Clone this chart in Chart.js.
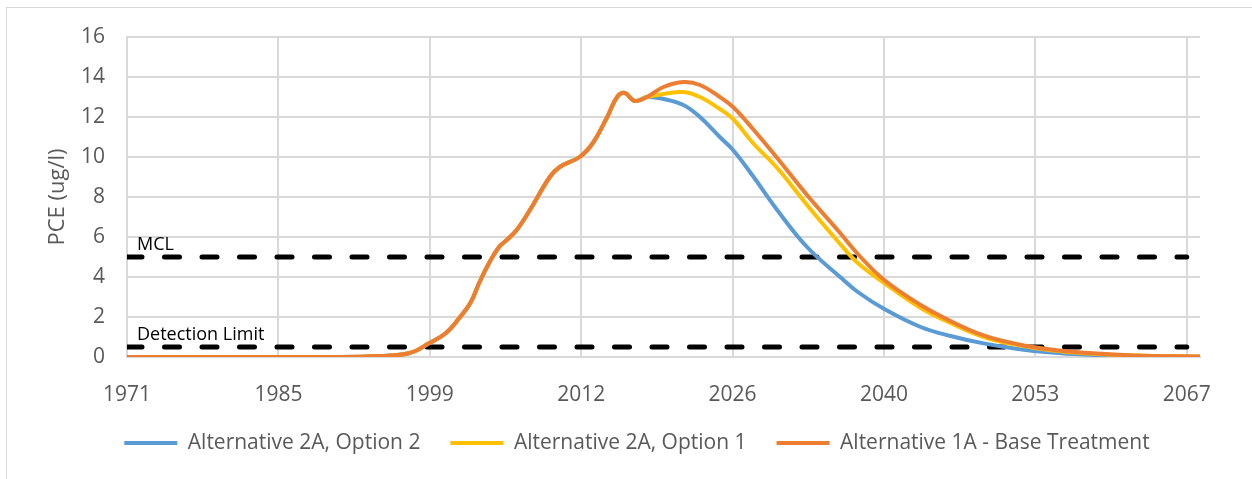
<!DOCTYPE html>
<html>
<head>
<meta charset="utf-8">
<script src="https://cdn.jsdelivr.net/npm/chart.js@4.4.1/dist/chart.umd.min.js"></script>
<style>
  html, body { margin: 0; padding: 0; background: #fff; overflow: hidden; }
  #wrap { position: relative; width: 1252px; height: 479px; }
  #frame { position: absolute; left: 6px; top: 7px; width: 1300px; height: 500px;
           border-left: 1px solid #d9d9d9; border-top: 1px solid #d9d9d9; }
  #chart { position: absolute; left: 0; top: 0; }
</style>
</head>
<body>
<div id="wrap">
  <div id="frame"></div>
  <canvas id="chart" width="1252" height="479"></canvas>
</div>
<script>
// x axis labels (Excel date axis, ticks are evenly spaced)
const tickLabels = ['1971', '1985', '1999', '2012', '2026', '2040', '2053', '2067'];

// years of the sampled points
const years = [1971, 1982, 1989.4, 1993.9, 1996.6, 1998.4, 1999.9, 2001.1, 2002.1, 2002.9,
  2003.8, 2004.7, 2005.4, 2006.3, 2007.5, 2009.3, 2010.2, 2012.0, 2013.2, 2014.5,
  2015.4, 2016.1, 2017.0, 2018.1, 2019.6, 2021.4, 2022.9, 2024.7, 2025.9, 2027.7,
  2029.9, 2032.6, 2035.6, 2037.2, 2039.6, 2042.9, 2045.6, 2048.6, 2051.7, 2054.7,
  2057.7, 2062.2, 2068.2];

// PCE (ug/l)
const alt2aOpt2 = [0, 0, 0, 0.05, 0.2, 0.7, 1.2, 1.95, 2.7, 3.7,
  4.7, 5.5, 5.85, 6.35, 7.35, 9.0, 9.5, 10.0, 10.7, 12.0,
  13.0, 13.2, 12.8, 13.0, 12.9, 12.6, 12.0, 11.0, 10.35, 9.05,
  7.35, 5.5, 4.0, 3.25, 2.4, 1.5, 1.05, 0.68, 0.4, 0.22,
  0.12, 0.05, 0.01];
const alt2aOpt1 = [0, 0, 0, 0.05, 0.2, 0.7, 1.2, 1.95, 2.7, 3.7,
  4.7, 5.5, 5.85, 6.35, 7.35, 9.0, 9.5, 10.0, 10.7, 12.0,
  13.0, 13.2, 12.8, 13.0, 13.15, 13.25, 13.0, 12.4, 11.9, 10.7,
  9.45, 7.6, 5.65, 4.7, 3.7, 2.45, 1.7, 1.0, 0.6, 0.34,
  0.19, 0.07, 0.02];
const alt1aBase = [0, 0, 0, 0.05, 0.2, 0.7, 1.2, 1.95, 2.7, 3.7,
  4.7, 5.5, 5.85, 6.35, 7.35, 9.0, 9.5, 10.0, 10.7, 12.0,
  13.0, 13.2, 12.8, 13.0, 13.5, 13.75, 13.6, 13.0, 12.5, 11.4,
  9.95, 8.1, 6.2, 5.15, 3.85, 2.6, 1.8, 1.08, 0.64, 0.37,
  0.21, 0.08, 0.02];

// horizontal reference lines
const refNames = ['MCL', 'Detection Limit'];
const refValues = [5, 0.5];

const firstYear = 1971;
const lastYear = 2067;
const tickYears = tickLabels.map((t, i) => firstYear + i * (lastYear - firstYear) / (tickLabels.length - 1));

const grey = '#595959';
const gridColor = '#d9d9d9';
const font = 'Open Sans';

function series(values) {
  return years.map((y, i) => ({ x: y, y: values[i] }));
}

function lineSet(label, values, color, order) {
  return {
    label: label,
    data: series(values),
    borderColor: color,
    backgroundColor: color,
    borderWidth: 4,
    pointRadius: 0,
    tension: 0.4,
    order: order
  };
}

const refSets = refValues.map((v, i) => ({
  label: refNames[i],
  data: [{ x: firstYear, y: v }, { x: lastYear, y: v }],
  borderColor: '#000',
  borderWidth: 5,
  borderDash: [15, 22.5],
  borderCapStyle: 'round',
  pointRadius: 0,
  order: 10
}));

// MCL / Detection Limit text above the dashed lines
const refLabels = {
  id: 'refLabels',
  afterDatasetsDraw(chart) {
    const ctx = chart.ctx;
    const yScale = chart.scales.y;
    ctx.save();
    ctx.font = '18px "' + font + '"';
    ctx.fillStyle = '#000';
    ctx.textBaseline = 'alphabetic';
    refValues.forEach((v, i) => {
      ctx.fillText(refNames[i], chart.chartArea.left + 10, yScale.getPixelForValue(v) - 7);
    });
    ctx.restore();
  }
};

new Chart(document.getElementById('chart'), {
  type: 'line',
  data: {
    datasets: [
      lineSet('Alternative 2A, Option 2', alt2aOpt2, '#5b9bd5', 3),
      lineSet('Alternative 2A, Option 1', alt2aOpt1, '#ffc000', 2),
      lineSet('Alternative 1A - Base Treatment', alt1aBase, '#ed7d31', 1)
    ].concat(refSets)
  },
  options: {
    responsive: false,
    animation: false,
    devicePixelRatio: 1,
    layout: { padding: { left: 22, top: 37, right: 0, bottom: 15.5 } },
    plugins: {
      tooltip: { enabled: false },
      legend: {
        position: 'bottom',
        labels: {
          boxWidth: 53,
          boxHeight: 4,
          padding: 30,
          color: grey,
          font: { family: font, size: 21 },
          sort: (a, b) => a.datasetIndex - b.datasetIndex,
          filter: item => item.datasetIndex < 3,
          generateLabels: chart => Chart.defaults.plugins.legend.labels.generateLabels(chart)
            .map(l => Object.assign(l, { lineWidth: 0, fillStyle: l.strokeStyle }))
        }
      }
    },
    scales: {
      x: {
        type: 'linear',
        min: firstYear,
        max: years[years.length - 1],
        afterBuildTicks: scale => { scale.ticks = tickYears.map(v => ({ value: v })); },
        afterFit: scale => { scale.height = 45.5; },
        grid: { color: gridColor, lineWidth: 2, drawTicks: false },
        border: { color: gridColor, width: 2 },
        ticks: {
          color: grey,
          padding: 25,
          maxRotation: 0,
          autoSkip: false,
          font: { family: font, size: 21 },
          callback: (v, i) => tickLabels[i]
        }
      },
      y: {
        min: 0,
        max: 16,
        afterFit: scale => { scale.width = 105; },
        grid: { color: gridColor, lineWidth: 2, drawTicks: false },
        border: { color: gridColor, width: 2 },
        ticks: { stepSize: 2, color: grey, padding: 22, font: { family: font, size: 21 } },
        title: {
          display: true,
          text: 'PCE (ug/l)',
          color: grey,
          font: { family: font, size: 22 },
          padding: { top: 23 }
        }
      },
      // empty spacer on the right so the plot ends where the reference does
      y2: {
        position: 'right',
        display: true,
        afterFit: scale => { scale.width = 52; },
        grid: { display: false },
        border: { display: false },
        ticks: { display: false }
      }
    }
  },
  plugins: [refLabels]
});
</script>
</body>
</html>
